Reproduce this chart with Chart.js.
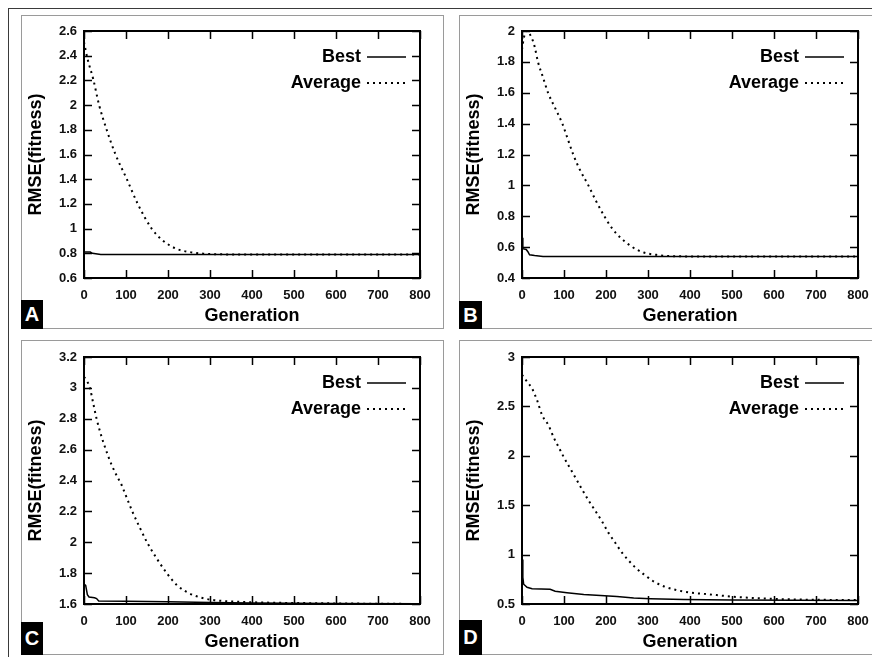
<!DOCTYPE html>
<html>
<head>
<meta charset="utf-8">
<script src="https://cdn.jsdelivr.net/npm/chart.js@4.4.1/dist/chart.umd.min.js"></script>
<style>
  body { margin: 0; background: #fff; width: 872px; height: 657px; overflow: hidden; position: relative; }
  .outer { position: absolute; left: 8px; top: 8px; width: 920px; height: 720px; border: 1.5px solid #3a3a3a; }
  .box { position: absolute; box-sizing: border-box; border: 1.5px solid #9a9a9a; }
  .tag { position: absolute; background: #000; color: #fff; font: bold 20px "Liberation Sans", Arial, sans-serif;
         display: flex; align-items: center; justify-content: center; }
  canvas { position: absolute; }
</style>
</head>
<body>
<div class="outer"></div>
<div class="box" style="left:21px;top:15px;width:423px;height:314px"></div>
<div class="box" style="left:459px;top:15px;width:430px;height:314px"></div>
<div class="box" style="left:21px;top:340px;width:423px;height:315px"></div>
<div class="box" style="left:459px;top:340px;width:430px;height:315px"></div>
<canvas id="chartA" width="423" height="314" style="left:21px;top:15px"></canvas>
<canvas id="chartB" width="423" height="314" style="left:459px;top:15px"></canvas>
<canvas id="chartC" width="423" height="314" style="left:21px;top:341px"></canvas>
<canvas id="chartD" width="423" height="314" style="left:459px;top:341px"></canvas>
<div class="tag" style="left:21px;top:300px;width:22px;height:29px">A</div>
<div class="tag" style="left:459px;top:301px;width:23px;height:28px">B</div>
<div class="tag" style="left:21px;top:622px;width:22px;height:33px">C</div>
<div class="tag" style="left:459px;top:620px;width:23px;height:35px">D</div>
<script>
// x axis ticks (generation)
const xTicks = [0, 100, 200, 300, 400, 500, 600, 700, 800];

// A
const yTicksA = [0.6, 0.8, 1, 1.2, 1.4, 1.6, 1.8, 2, 2.2, 2.4, 2.6];
const genAvgA = [0, 8, 22, 36, 54, 75, 102, 128, 161, 189, 221, 252, 284, 320, 400, 800];
const avgA = [2.51, 2.38, 2.21, 2.0, 1.8, 1.6, 1.4, 1.2, 1.0, 0.9, 0.835, 0.81, 0.797, 0.792, 0.79, 0.79];
const genBestA = [0, 15, 20, 40, 800];
const bestA = [0.81, 0.81, 0.8, 0.79, 0.79];

// B
const yTicksB = [0.4, 0.6, 0.8, 1, 1.2, 1.4, 1.6, 1.8, 2];
const genAvgB = [0, 4, 10, 16, 24, 30, 38, 50, 62, 79, 96, 109, 122, 138, 158, 176, 196, 215, 235, 263, 290, 320, 350, 400, 800];
const avgB = [1.88, 1.95, 2.0, 1.99, 1.95, 1.9, 1.8, 1.7, 1.6, 1.5, 1.4, 1.3, 1.2, 1.1, 1.0, 0.9, 0.8, 0.72, 0.66, 0.6, 0.565, 0.55, 0.542, 0.54, 0.54];
const genBestB = [0, 2, 10, 14, 18, 30, 50, 800];
const bestB = [0.66, 0.59, 0.585, 0.57, 0.55, 0.545, 0.54, 0.54];

// C
const yTicksC = [1.6, 1.8, 2, 2.2, 2.4, 2.6, 2.8, 3, 3.2];
const genAvgC = [0, 6, 14, 22, 30, 40, 52, 66, 80, 88, 100, 115, 132, 150, 172, 197, 222, 250, 280, 310, 360, 420, 550, 800];
const avgC = [3.07, 3.05, 3.0, 2.9, 2.8, 2.7, 2.6, 2.5, 2.42, 2.38, 2.3, 2.2, 2.1, 2.0, 1.9, 1.8, 1.72, 1.67, 1.64, 1.625, 1.615, 1.61, 1.605, 1.6];
const genBestC = [0, 4, 8, 12, 25, 30, 35, 100, 200, 300, 400, 600, 800];
const bestC = [1.73, 1.72, 1.66, 1.645, 1.64, 1.635, 1.62, 1.618, 1.614, 1.61, 1.606, 1.603, 1.602];

// D
const yTicksD = [0.5, 1, 1.5, 2, 2.5, 3];
const genAvgD = [0, 12, 24, 36, 48, 63, 75, 87, 99, 111, 127, 143, 159, 175, 190, 206, 222, 238, 254, 270, 290, 313, 337, 369, 401, 440, 500, 580, 660, 800];
const avgD = [2.82, 2.75, 2.68, 2.56, 2.41, 2.31, 2.19, 2.09, 1.99, 1.9, 1.78, 1.66, 1.545, 1.44, 1.34, 1.22, 1.12, 1.02, 0.94, 0.87, 0.8, 0.73, 0.68, 0.64, 0.615, 0.6, 0.575, 0.555, 0.545, 0.54];
const genBestD = [0, 2, 4, 12, 24, 67, 79, 107, 147, 187, 226, 266, 306, 385, 500, 650, 800];
const bestD = [0.95, 0.77, 0.7, 0.67, 0.655, 0.65, 0.63, 0.615, 0.595, 0.585, 0.575, 0.56, 0.553, 0.546, 0.54, 0.537, 0.535];

const FONT = '"Liberation Sans", Arial, sans-serif';
Chart.defaults.font.family = FONT;
Chart.defaults.font.weight = 'bold';
Chart.defaults.color = '#000';

const pts = (g, v) => g.map((x, i) => ({ x: x, y: v[i] }));

// gnuplot-like frame, inward mirrored ticks and key
const frame = {
  id: 'frame',
  afterDatasetsDraw(chart) {
    const { ctx, chartArea: a, scales: { x, y } } = chart;
    ctx.save();
    ctx.strokeStyle = '#000';
    ctx.lineWidth = 1.5;
    ctx.beginPath();
    x.ticks.forEach(t => {
      const px = Math.round(x.getPixelForValue(t.value)) + 0.5;
      ctx.moveTo(px, a.bottom); ctx.lineTo(px, a.bottom - 8);
      ctx.moveTo(px, a.top); ctx.lineTo(px, a.top + 8);
    });
    y.ticks.forEach(t => {
      const py = Math.round(y.getPixelForValue(t.value)) + 0.5;
      ctx.moveTo(a.left, py); ctx.lineTo(a.left + 8, py);
      ctx.moveTo(a.right, py); ctx.lineTo(a.right - 8, py);
    });
    ctx.stroke();
    ctx.lineWidth = 2;
    ctx.strokeRect(a.left, a.top, a.right - a.left, a.bottom - a.top);

    ctx.font = 'bold 18px ' + FONT;
    ctx.textAlign = 'right';
    ctx.textBaseline = 'middle';
    ctx.fillStyle = '#000';
    chart.data.datasets.forEach((ds, i) => {
      const ly = a.top + 26 + i * 26;
      ctx.fillText(ds.label, a.right - 59, ly);
      ctx.lineWidth = ds.borderWidth;
      ctx.setLineDash(ds.borderDash || []);
      ctx.beginPath();
      ctx.moveTo(a.right - 53, ly);
      ctx.lineTo(a.right - 14, ly);
      ctx.stroke();
    });
    ctx.restore();
  }
};

function makeChart(id, yTicks, genBest, best, genAvg, avg) {
  new Chart(document.getElementById(id), {
    type: 'line',
    data: {
      datasets: [
        { label: 'Best', data: pts(genBest, best), borderColor: '#000', borderWidth: 1.5,
          pointRadius: 0, tension: 0 },
        { label: 'Average', data: pts(genAvg, avg), borderColor: '#000', borderWidth: 2,
          borderDash: [2, 4], pointRadius: 0, cubicInterpolationMode: 'monotone' }
      ]
    },
    options: {
      responsive: false,
      animation: false,
      devicePixelRatio: 1,
      layout: { padding: { top: 16, right: 24, left: 0, bottom: 0 } },
      plugins: { legend: { display: false }, tooltip: { enabled: false } },
      scales: {
        x: {
          type: 'linear', min: 0, max: 800,
          afterBuildTicks: s => { s.ticks = xTicks.map(v => ({ value: v })); },
          afterFit: s => { s.height = 51; },
          grid: { display: false, drawTicks: false },
          border: { display: false },
          ticks: { padding: 10, color: '#111', font: { size: 13, weight: 'bold' }, callback: v => String(v) },
          title: { display: true, text: 'Generation', font: { size: 18, weight: 'bold' }, padding: { top: 4, bottom: 2 } }
        },
        y: {
          min: yTicks[0], max: yTicks[yTicks.length - 1],
          afterBuildTicks: s => { s.ticks = yTicks.map(v => ({ value: v })); },
          afterFit: s => { s.width = 63; },
          grid: { display: false, drawTicks: false },
          border: { display: false },
          ticks: { padding: 7, color: '#111', font: { size: 13, weight: 'bold' }, callback: v => String(v) },
          title: { display: true, text: 'RMSE(fitness)', font: { size: 18, weight: 'bold' }, padding: { top: 4, bottom: 4 } }
        }
      }
    },
    plugins: [frame]
  });
}

makeChart('chartA', yTicksA, genBestA, bestA, genAvgA, avgA);
makeChart('chartB', yTicksB, genBestB, bestB, genAvgB, avgB);
makeChart('chartC', yTicksC, genBestC, bestC, genAvgC, avgC);
makeChart('chartD', yTicksD, genBestD, bestD, genAvgD, avgD);
</script>
</body>
</html>
